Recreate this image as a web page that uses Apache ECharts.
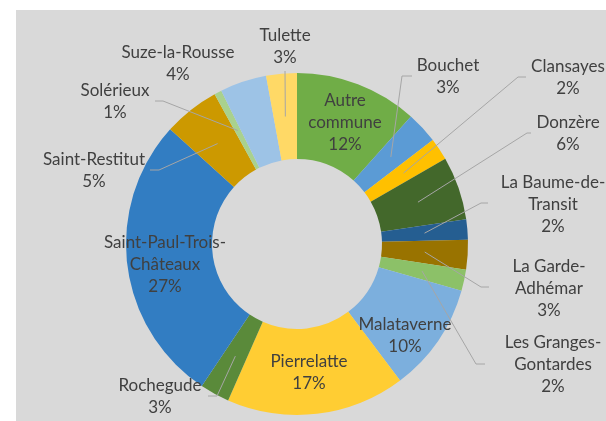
<!DOCTYPE html>
<html>
<head>
<meta charset="utf-8">
<script src="https://cdn.jsdelivr.net/npm/echarts@6/dist/echarts.min.js"></script>
<style>
  html, body { margin: 0; padding: 0; background: #ffffff; }
  #chart { width: 606px; height: 421px; }
</style>
</head>
<body>
<div id="chart"></div>
<script>
// ---- data ----
const categories = ['Autre commune', 'Bouchet', 'Clansayes', 'Donzère', 'La Baume-de-Transit',
  'La Garde-Adhémar', 'Les Granges-Gontardes', 'Malataverne', 'Pierrelatte', 'Rochegude',
  'Saint-Paul-Trois-Châteaux', 'Saint-Restitut', 'Solérieux', 'Suze-la-Rousse', 'Tulette'];
const shares = [11.6, 3.0, 2.1, 6.0, 1.9, 2.8, 2.0, 10.3, 16.9, 2.8, 27.3, 5.3, 0.7, 4.4, 2.9];
const labelTexts = ['Autre\ncommune', 'Bouchet', 'Clansayes', 'Donzère', 'La Baume-de-\nTransit',
  'La Garde-\nAdhémar', 'Les Granges-\nGontardes', 'Malataverne', 'Pierrelatte', 'Rochegude',
  'Saint-Paul-Trois-\nChâteaux', 'Saint-Restitut', 'Solérieux', 'Suze-la-Rousse', 'Tulette'];
const colors = ['#70ad47', '#5b9bd5', '#ffc000', '#43682b', '#255e91', '#997300', '#8cc168',
  '#7cafdd', '#ffcd33', '#5a8a3a', '#327dc2', '#cc9900', '#a9d18e', '#9dc3e6', '#ffd966'];

// ---- layout (label placement, not data) ----
const CX = 297, CY = 244, R_IN = 85, R_OUT = 171, R_MID = (R_IN + R_OUT) / 2;
const place = [
  { x: 345, y: 123 },
  { x: 448, y: 77, end: [412, 76], knee: 402 },
  { x: 568, y: 78, end: [526, 77], knee: 518 },
  { x: 568, y: 134, end: [531, 133], knee: 527 },
  { x: 553, y: 205, end: [488, 203], knee: 481 },
  { x: 549, y: 289, end: [489, 287], knee: 481 },
  { x: 553, y: 365, end: [485, 364], knee: 476 },
  { x: 405, y: 336 },
  { x: 309, y: 373 },
  { x: 160, y: 397, end: [208, 396], knee: 217 },
  { x: 165, y: 265 },
  { x: 94, y: 171, end: [150, 170], knee: 159 },
  { x: 115, y: 102, end: [155, 101], knee: 163 },
  { x: 178, y: 64 },
  { x: 285, y: 47, end: [285, 71] }
];

const total = shares.reduce((a, b) => a + b, 0);
function midPoint(i) {
  let cum = 0;
  for (let j = 0; j < i; j++) cum += shares[j];
  const a = (cum + shares[i] / 2) / total * 2 * Math.PI;
  return [CX + R_MID * Math.sin(a), CY - R_MID * Math.cos(a)];
}

const data = categories.map((name, i) => ({
  name: name,
  value: shares[i],
  itemStyle: { color: colors[i] }
}));

// leader lines: from the middle of each slice to its label
const leaderLines = [];
place.forEach((L, i) => {
  if (!L.end) return;
  const pts = [midPoint(i)];
  if (L.knee != null) pts.push([L.knee, L.end[1]]);
  pts.push(L.end);
  leaderLines.push({
    type: 'polyline', z: 100, silent: true,
    shape: { points: pts },
    style: { stroke: '#a6a6a6', lineWidth: 1, fill: null }
  });
});

const chart = echarts.init(document.getElementById('chart'), null, { renderer: 'canvas' });
chart.setOption({
  animation: false,
  backgroundColor: '#ffffff',
  graphic: [{
    type: 'rect', z: -10, silent: true,
    shape: { x: 16, y: 10, width: 590, height: 411 },
    style: { fill: '#d9d9d9' }
  }].concat(leaderLines),
  series: [{
    type: 'pie',
    center: [CX, CY],
    radius: [R_IN, R_OUT],
    startAngle: 90,
    clockwise: true,
    avoidLabelOverlap: false,
    itemStyle: { borderWidth: 0 },
    emphasis: { disabled: true },
    label: {
      show: true,
      position: 'outside',
      fontFamily: 'Lato',
      fontSize: 17,
      lineHeight: 22,
      color: '#404040',
      formatter: p => labelTexts[p.dataIndex] + '\n' + Math.round(p.percent) + '%'
    },
    labelLine: { show: false },
    labelLayout: function (p) {
      const L = place[p.dataIndex];
      return { x: L.x, y: L.y, align: 'center', verticalAlign: 'middle' };
    },
    data: data
  }]
});
</script>
</body>
</html>
